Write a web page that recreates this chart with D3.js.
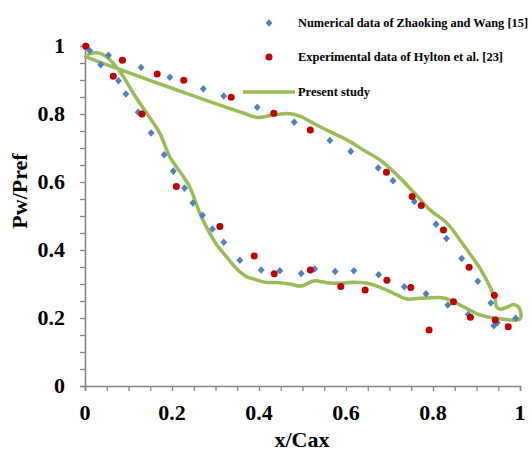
<!DOCTYPE html>
<html>
<head>
<meta charset="utf-8">
<script src="https://cdn.jsdelivr.net/npm/d3@7"></script>
<style>
  html, body { margin: 0; padding: 0; background: #ffffff; }
  svg { display: block; }
  text { font-family: "Liberation Serif", "Times New Roman", serif; font-weight: bold; fill: #000; }
</style>
</head>
<body>
<svg id="chart" width="532" height="452"></svg>
<script>
// ---------- data ----------
const numericalX = [0.000,0.011,0.036,0.054,0.077,0.094,0.122,0.129,0.152,0.182,0.195,0.203,0.229,0.248,0.270,0.272,0.293,0.319,0.319,0.356,0.396,0.405,0.448,0.481,0.497,0.528,0.563,0.575,0.611,0.618,0.674,0.675,0.708,0.734,0.757,0.784,0.807,0.831,0.834,0.866,0.881,0.903,0.933,0.940,0.948,0.990];
const numericalY = [1.000,0.986,0.945,0.973,0.898,0.859,0.805,0.937,0.744,0.680,0.908,0.632,0.582,0.538,0.502,0.874,0.462,0.423,0.853,0.370,0.820,0.341,0.339,0.776,0.331,0.344,0.722,0.337,0.690,0.339,0.641,0.327,0.604,0.292,0.543,0.271,0.476,0.434,0.238,0.375,0.210,0.308,0.244,0.177,0.186,0.199];

const experimentalX = [0.002,0.065,0.086,0.131,0.166,0.210,0.227,0.310,0.336,0.389,0.434,0.435,0.518,0.518,0.588,0.644,0.693,0.694,0.749,0.752,0.773,0.791,0.824,0.847,0.883,0.886,0.941,0.943,0.973];
const experimentalY = [0.999,0.911,0.958,0.800,0.918,0.587,0.899,0.469,0.849,0.382,0.802,0.330,0.753,0.341,0.293,0.282,0.629,0.311,0.290,0.557,0.531,0.165,0.459,0.248,0.349,0.202,0.267,0.194,0.174];

const presentX = [0.008,0.027,0.042,0.065,0.088,0.111,0.142,0.172,0.195,0.226,0.241,0.264,0.280,0.303,0.326,0.349,0.372,0.387,0.414,0.448,0.471,0.498,0.525,0.556,0.586,0.617,0.648,0.671,0.694,0.717,0.740,0.770,0.816,0.839,0.870,0.908,0.946,1.000,
                  1.000,0.994,0.985,0.969,0.954,0.946,0.943,0.931,0.908,0.870,0.832,0.793,0.755,0.717,0.678,0.640,0.602,0.563,0.525,0.494,0.471,0.433,0.395,0.364,0.310,0.195,0.080,0.002];
const presentY = [0.976,0.980,0.974,0.949,0.910,0.861,0.802,0.743,0.674,0.616,0.585,0.508,0.465,0.415,0.379,0.344,0.321,0.315,0.305,0.304,0.300,0.294,0.309,0.304,0.302,0.305,0.302,0.294,0.282,0.268,0.256,0.258,0.260,0.253,0.233,0.209,0.199,0.197,
                  0.224,0.235,0.240,0.231,0.226,0.233,0.253,0.292,0.346,0.415,0.479,0.518,0.571,0.621,0.665,0.694,0.724,0.748,0.773,0.794,0.801,0.797,0.790,0.803,0.826,0.878,0.931,0.968];

const xTickValues = [0, 0.2, 0.4, 0.6, 0.8, 1];
const xTickLabels = ["0", "0.2", "0.4", "0.6", "0.8", "1"];
const yTickValues = [0, 0.2, 0.4, 0.6, 0.8, 1];
const yTickLabels = ["0", "0.2", "0.4", "0.6", "0.8", "1"];
const minorTicks = d3.range(0, 1.0001, 0.05);

const seriesNames = ["Numerical data of Zhaoking and Wang [15]", "Experimental data of Hylton et al. [23]", "Present study"];
const xTitle = "x/Cax";
const yTitle = "Pw/Pref";

// ---------- layout ----------
const colors = { blue: "#4f81bd", red: "#c00000", green: "#9bbb59", axis: "#868686" };
const svg = d3.select("#chart");
const x = d3.scaleLinear().domain([0, 1]).range([85, 520]);
const y = d3.scaleLinear().domain([0, 1]).range([386, 46]);

// axes
const xAxis = d3.axisBottom(x).tickValues(minorTicks).tickSize(5).tickFormat("");
const yAxis = d3.axisLeft(y).tickValues(minorTicks).tickSize(5).tickFormat("");
const gx = svg.append("g").attr("transform", `translate(0,${y(0)})`).call(xAxis);
const gy = svg.append("g").attr("transform", `translate(${x(0)},0)`).call(yAxis);
[gx, gy].forEach(g => {
  g.select(".domain").attr("stroke", colors.axis).attr("stroke-width", 1.6);
  g.selectAll(".tick line").attr("stroke", colors.axis).attr("stroke-width", 1.3);
});

svg.append("g").selectAll("text").data(xTickValues).join("text")
  .attr("x", d => x(d)).attr("y", 420)
  .attr("text-anchor", "middle").attr("font-size", 22)
  .text((d, i) => xTickLabels[i]);

svg.append("g").selectAll("text").data(yTickValues).join("text")
  .attr("x", 65).attr("y", d => y(d)).attr("dy", "0.34em")
  .attr("text-anchor", "end").attr("font-size", 22)
  .text((d, i) => yTickLabels[i]);

svg.append("text").attr("x", 302).attr("y", 447).attr("text-anchor", "middle")
  .attr("font-size", 22).text(xTitle);
svg.append("text").attr("transform", "translate(19,191) rotate(-90)")
  .attr("text-anchor", "middle").attr("dy", "0.35em").attr("font-size", 22).text(yTitle);

// diamond symbol
const diamond = {
  draw(ctx, size) {
    const w = Math.sqrt(size / 2) * 0.95, h = Math.sqrt(size / 2) * 1.05;
    ctx.moveTo(0, -h); ctx.lineTo(w, 0); ctx.lineTo(0, h); ctx.lineTo(-w, 0); ctx.closePath();
  }
};
const diamondPath = d3.symbol().type(diamond).size(26)();

// present study line
const line = d3.line().x(d => x(d[0])).y(d => y(d[1])).curve(d3.curveCatmullRom.alpha(0.5));
const presentData = presentX.map((v, i) => [v, presentY[i]]);
svg.append("path").datum(presentData).attr("d", line)
  .attr("fill", "none").attr("stroke", colors.green).attr("stroke-width", 3.5)
  .attr("stroke-linejoin", "round").attr("stroke-linecap", "round");

// numerical (blue diamonds)
svg.append("g").selectAll("path").data(numericalX.map((v, i) => [v, numericalY[i]])).join("path")
  .attr("d", diamondPath)
  .attr("transform", d => `translate(${x(d[0])},${y(d[1])})`)
  .attr("fill", colors.blue);

// experimental (red circles)
svg.append("g").selectAll("circle").data(experimentalX.map((v, i) => [v, experimentalY[i]])).join("circle")
  .attr("cx", d => x(d[0])).attr("cy", d => y(d[1])).attr("r", 3.5)
  .attr("fill", colors.red);

// legend
const lg = svg.append("g");
lg.append("path").attr("d", diamondPath).attr("transform", "translate(269,23)").attr("fill", colors.blue);
lg.append("circle").attr("cx", 269).attr("cy", 57).attr("r", 3.5).attr("fill", colors.red);
lg.append("line").attr("x1", 243).attr("x2", 295).attr("y1", 92).attr("y2", 92)
  .attr("stroke", colors.green).attr("stroke-width", 3.5);
const legendY = [27, 61, 96];
const legendW = [230, 205, 72];
lg.selectAll("text").data(seriesNames).join("text")
  .attr("x", 298).attr("y", (d, i) => legendY[i]).attr("font-size", 12.6)
  .attr("textLength", (d, i) => legendW[i]).attr("lengthAdjust", "spacingAndGlyphs")
  .text(d => d);
</script>
</body>
</html>
